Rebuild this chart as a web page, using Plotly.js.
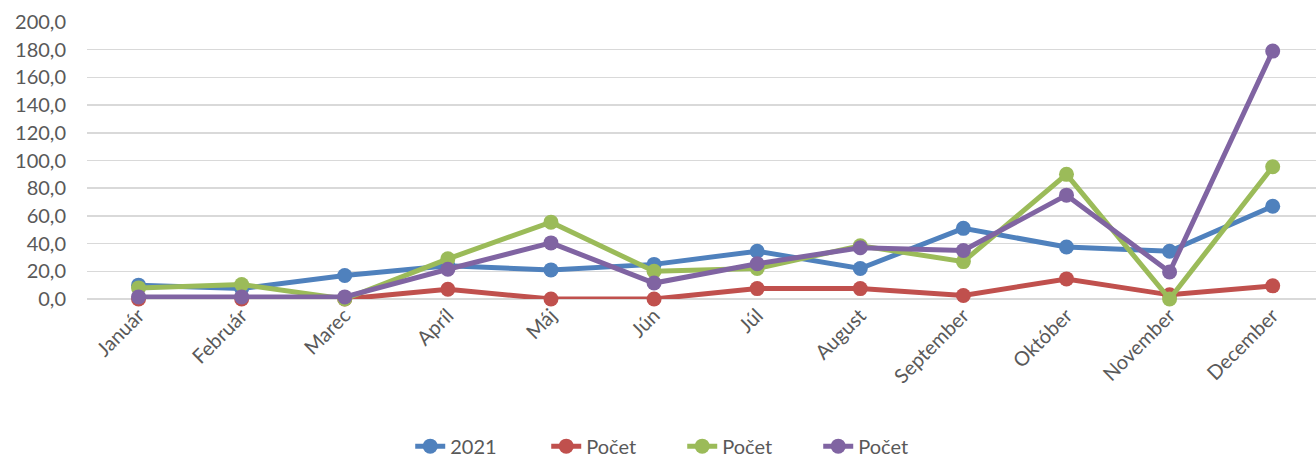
<!DOCTYPE html>
<html>
<head>
<meta charset="utf-8">
<script src="https://cdn.plot.ly/plotly-3.0.1.min.js"></script>
<style>
  html, body { margin: 0; padding: 0; background: #fff; }
  #chart { width: 1316px; height: 459px; }
</style>
</head>
<body>
<div id="chart"></div>
<script>
// months on the category axis
const months = ["Január", "Február", "Marec", "Apríl", "Máj", "Jún", "Júl",
                "August", "September", "Október", "November", "December"];

// series values
const vals2021 = [10, 7.5, 17, 24, 21, 25, 34.5, 22, 51, 37.5, 34.5, 67];
const pocetRed = [0, 0, 0, 7, 0, 0, 7.5, 7.5, 2.5, 14.5, 3, 9.5];
const pocetGreen = [8, 10.5, 0, 29, 55.5, 20, 22, 38.5, 27, 90, 0, 95.5];
const pocetPurple = [1.5, 1.5, 1.5, 21.5, 40.5, 11.5, 25.5, 37, 35, 75, 19.5, 179];

const seriesNames = ["2021", "Počet", "Počet", "Počet"];
const seriesData = [vals2021, pocetRed, pocetGreen, pocetPurple];
const seriesColors = ["#4F81BD", "#C0504D", "#9BBB59", "#8064A2"];

const traces = seriesData.map((ys, i) => ({
  x: months,
  y: ys,
  name: seriesNames[i],
  type: "scatter",
  mode: "lines+markers",
  cliponaxis: false,
  line: { color: seriesColors[i], width: 5 },
  marker: { color: seriesColors[i], size: 15 }
}));

const layout = {
  width: 1316,
  height: 459,
  margin: { l: 87, r: 0, t: 22, b: 160 },
  paper_bgcolor: "#fff",
  plot_bgcolor: "#fff",
  separators: ",.",
  font: { family: "Lato, 'Liberation Sans', sans-serif", size: 20, color: "#595959" },
  showlegend: true,
  legend: {
    orientation: "h",
    x: 0.263, xanchor: "left",
    yref: "container", y: 0.028, yanchor: "middle",
    font: { size: 20, color: "#595959" },
    entrywidth: 91,
    entrywidthmode: "pixels"
  },
  xaxis: {
    type: "category",
    range: [-0.5, 11.42],
    tickangle: -45,
    showgrid: false,
    showline: false,
    zeroline: false,
    ticks: ""
  },
  yaxis: {
    range: [0, 200],
    dtick: 20,
    tickformat: ".1f",
    showgrid: true,
    gridcolor: "#D9D9D9",
    gridwidth: 1.5,
    zeroline: true,
    zerolinecolor: "#D9D9D9",
    zerolinewidth: 1.5,
    showline: false,
    ticks: "",
    ticklabelstandoff: 20
  }
};

Plotly.newPlot("chart", traces, layout, { displayModeBar: false, staticPlot: true });
</script>
</body>
</html>
